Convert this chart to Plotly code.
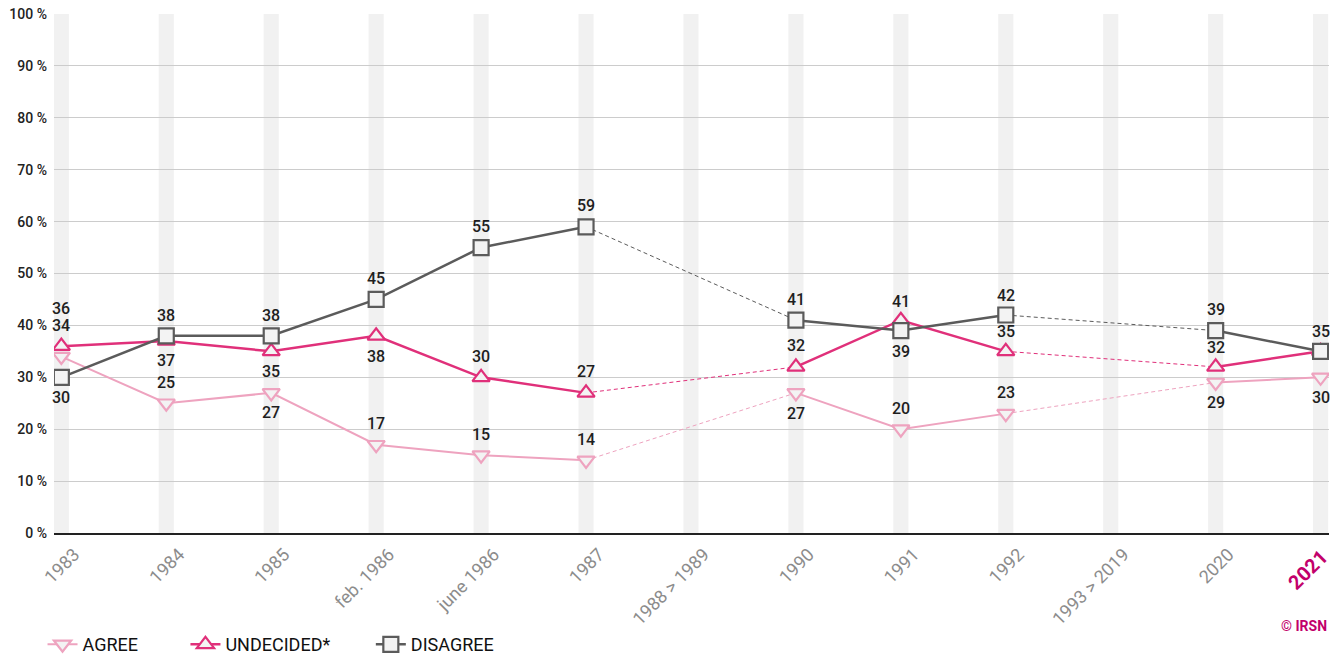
import plotly.graph_objects as go

# --- data ---
periods = ["1983", "1984", "1985", "feb. 1986", "june 1986", "1987", "1988 > 1989",
           "1990", "1991", "1992", "1993 > 2019", "2020", "2021"]
agree = [34, 25, 27, 17, 15, 14, None, 27, 20, 23, None, 29, 30]
undecided = [36, 37, 35, 38, 30, 27, None, 32, 41, 35, None, 32, 35]
disagree = [30, 38, 38, 45, 55, 59, None, 41, 39, 42, None, 39, 35]

# label offset per point in px (positive = above, None = no label)
agree_off = [31, 21, -20, 21, 21, 21, None, -21, 21, 21, None, -20, -20]
undecided_off = [38, -20, -20, -21, 21, 21, None, 21, 19, 20, None, 19, 20]
disagree_off = [-20, 20, 20, 21, 21, 21, None, 21, -21, 20, None, 21, None]

series = [
    ("AGREE", agree, agree_off, "#eea3bf", "triangle-down", 2),
    ("UNDECIDED*", undecided, undecided_off, "#e0307a", "triangle-up", 2.5),
    ("DISAGREE", disagree, disagree_off, "#5b5b5b", "square", 2.5),
]

fig = go.Figure()

# grey vertical bands behind each period
for i in range(len(periods)):
    fig.add_shape(type="rect", xref="x", yref="y", x0=i - 0.072, x1=i + 0.072,
                  y0=0, y1=100, fillcolor="#f1f1f1", line_width=0, layer="below")

legends = ["legend", "legend2", "legend3"]
for k, (name, vals, offs, color, sym, lw) in enumerate(series):
    # dashed connectors across missing periods
    for i, v in enumerate(vals):
        if v is None and 0 < i < len(vals) - 1:
            fig.add_trace(go.Scatter(
                x=[periods[i - 1], periods[i + 1]], y=[vals[i - 1], vals[i + 1]],
                mode="lines", line=dict(color=color, width=1, dash="4px,3px"),
                showlegend=False, hoverinfo="skip"))
    fig.add_trace(go.Scatter(
        x=periods, y=vals, name=name, mode="lines+markers",
        line=dict(color=color, width=lw),
        marker=dict(symbol=sym, size=15, color="#f3f3f3",
                    line=dict(color=color, width=2.2)),
        connectgaps=False, legend=legends[k]))
    # value labels (x given as category index so "1983" isn't read as a number)
    for i, v in enumerate(vals):
        if v is None or offs[i] is None:
            continue
        fig.add_annotation(x=i, y=v, text=str(v), showarrow=False,
                           yshift=offs[i], xanchor="center", yanchor="middle",
                           font=dict(family="Roboto", size=16, color="#1e1e1e",
                                     weight=500))

# last period is highlighted separately (bold, magenta)
ticktext = periods[:-1] + [""]

fig.update_layout(
    width=1322, height=646,
    margin=dict(l=46, r=1, t=6, b=121, autoexpand=False),
    paper_bgcolor="white", plot_bgcolor="white",
    font=dict(family="Roboto", color="#222222"),
    xaxis=dict(type="category", categoryorder="array", categoryarray=periods,
               range=[-0.07, 12.08], tickvals=periods,
               ticktext=ticktext, tickangle=-45, showgrid=False,
               tickfont=dict(size=18, color="#8c8c8c"), ticks="",
               ticklabelshift=13, ticklabelstandoff=2,
               showline=True, linecolor="#222222", linewidth=2),
    yaxis=dict(range=[0, 100], dtick=10, ticksuffix=" %", showgrid=True,
               gridcolor="#cccccc", gridwidth=1, zeroline=False,
               ticklabeloverflow="allow", ticklabelstandoff=6,
               tickfont=dict(size=14, color="#222222", weight=500)),
    showlegend=True,
)

fig.add_annotation(x=len(periods) - 1, xref="x", y=-0.0713, yref="paper",
                   xshift=-13, text="<b>" + periods[-1] + "</b>", textangle=-45,
                   showarrow=False, xanchor="center", yanchor="middle",
                   font=dict(size=20, color="#c2006b"))

leg_common = dict(orientation="h", yanchor="middle", y=-0.215, xanchor="left",
                  font=dict(size=18, color="#111111"), bgcolor="rgba(0,0,0,0)")
fig.update_layout(
    legend=dict(x=-0.009, **leg_common),
    legend2=dict(x=0.1031, **leg_common),
    legend3=dict(x=0.2485, **leg_common),
)

fig.add_annotation(xref="paper", yref="paper", x=1, y=-0.179, xanchor="right",
                   yanchor="middle", showarrow=False,
                   text="<b>© IRSN</b>", font=dict(size=14, color="#c2006b"))

fig.write_html("out.html")
